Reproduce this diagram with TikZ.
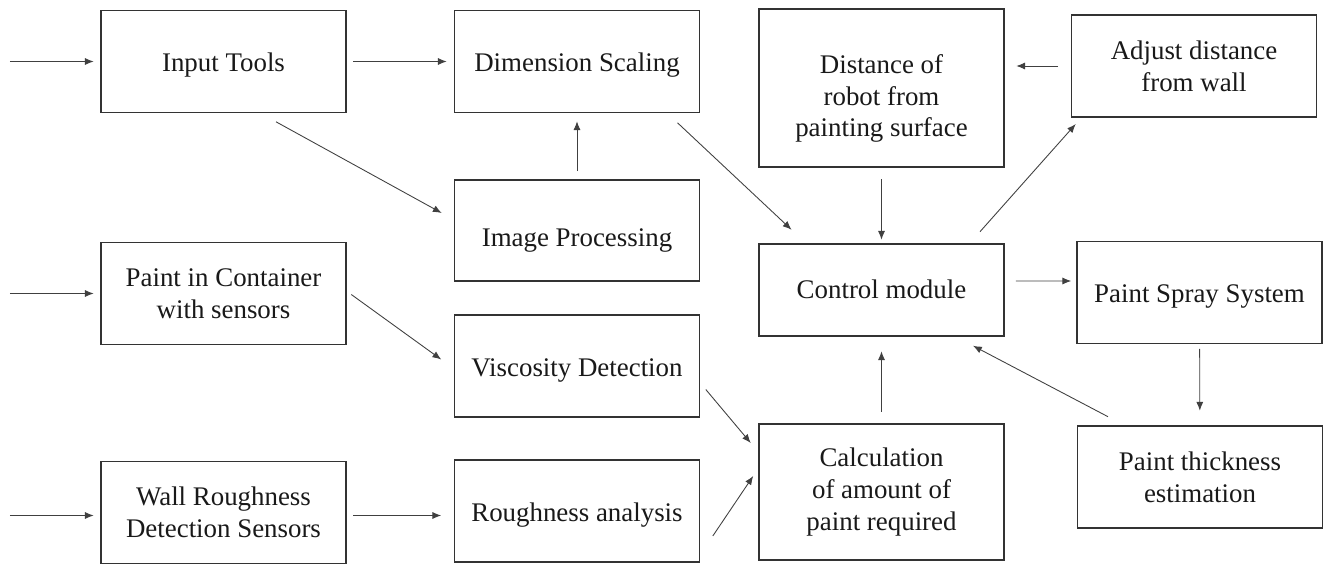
\documentclass[tikz,border=0pt]{standalone}
\usepackage{fontspec}
\setmainfont{Liberation Serif}
\usepackage{tikz}
\usetikzlibrary{calc, arrows.meta}

\begin{document}
\begin{tikzpicture}[
  block/.style={draw=black!80, line width=0.9pt, minimum width=4.9cm, minimum height=2.04cm,
    align=center, inner sep=2pt, text=black!90, font=\fontsize{15.3}{18}\selectfont},
  oneline/.style={block, text height=15pt, text depth=3.5pt},
  arr/.style={-{Latex[length=5pt, width=4pt]}, line width=0.5pt, black!75}
]
  \useasboundingbox (0,0) rectangle (26.58,11.28);
  % Entrees (colonne gauche)
  \node[oneline] (tools) at (4.47,10.05) {Input Tools};
  \node[block] (container) at (4.47,5.41) {Paint in Container\\with sensors};
  \node[block] (wallsens) at (4.47,1.03) {Wall Roughness\\Detection Sensors};
  \coordinate (in1) at (0.2,10.05);
  \coordinate (in2) at (0.2,5.41);
  \coordinate (in3) at (0.2,0.97);
  % Traitement
  \node[oneline] (scaling) at (11.54,10.05) {Dimension Scaling};
  \node[oneline, minimum height=2.02cm, text height=22pt] (imgproc) at (11.54,6.67) {Image Processing};
  \node[oneline] (viscosity) at (11.54,3.96) {Viscosity Detection};
  \node[oneline] (roughness) at (11.54,1.06) {Roughness analysis};
  % Commande
  \node[block, minimum height=3.15cm, text height=59pt, text depth=3.5pt] (distance) at (17.63,9.52) {Distance of\\robot from\\painting surface};
  \node[oneline, minimum height=1.84cm, text height=13pt] (control) at (17.63,5.48) {Control module};
  \node[block, minimum height=2.71cm] (calc) at (17.63,1.44) {Calculation\\of amount of\\paint required};
  % Sorties (colonne droite)
  \node[block, minimum height=2.05cm] (adjust) at (23.88,9.96) {Adjust distance\\from wall};
  \node[oneline] (spray) at (23.99,5.43) {Paint Spray System};
  \node[block] (thickness) at (24.0,1.74) {Paint thickness\\estimation};

  % Fleches d'entree
  \draw[arr, shorten >=0.13cm] (in1) -- (in1 -| tools.west);
  \draw[arr, shorten >=0.13cm] (in2) -- (in2 -| container.west);
  \draw[arr, shorten >=0.13cm] (in3) -- (in3 -| wallsens.west);
  % Liaisons
  \draw[arr, shorten <=0.13cm, shorten >=0.14cm] (tools) -- (scaling);
  \draw[arr] ($(tools.south)+(1.05,-0.17)$) -- ($(imgproc.west)+(-0.24,0.35)$);
  \draw[arr, shorten <=0.16cm, shorten >=0.16cm] (imgproc) -- (scaling);
  \draw[arr] ($(scaling.south)+(2.01,-0.19)$) -- ($(control.north)+(-1.8,0.27)$);
  \draw[arr, shorten <=0.23cm, shorten >=0.07cm] (distance) -- (control);
  \draw[arr] ([xshift=-0.25cm]adjust.west) -- ([xshift=0.23cm]adjust.west -| distance.east);
  \draw[arr] ($(control.north)+(1.97,0.23)$) -- ($(adjust.south west)+(0.1,-0.12)$);
  \draw[arr] ([shift={(0.22,0.18)}]control.east) -- ([shift={(-0.1,0.23)}]spray.west);
  \draw[arr, shorten <=0.09cm, shorten >=0.29cm] (spray) -- (thickness);
  \draw[arr] ($(thickness.north)+(-1.84,0.17)$) -- ($(control.south)+(1.83,-0.18)$);
  \draw[arr, shorten <=0.23cm, shorten >=0.29cm] (calc) -- (control);
  \draw[arr] ($(container.east)+(0.09,-0.02)$) -- ($(viscosity.west)+(-0.25,0.13)$);
  \draw[arr] ($(viscosity.east)+(0.11,-0.47)$) -- ($(calc.west)+(-0.15,0.98)$);
  \draw[arr, shorten <=0.13cm, shorten >=0.25cm] (wallsens.east |- in3) -- (roughness.west |- in3);
  \draw[arr] ($(roughness.east)+(0.25,-0.5)$) -- ($(calc.west)+(-0.1,0.32)$);
\end{tikzpicture}
\end{document}
